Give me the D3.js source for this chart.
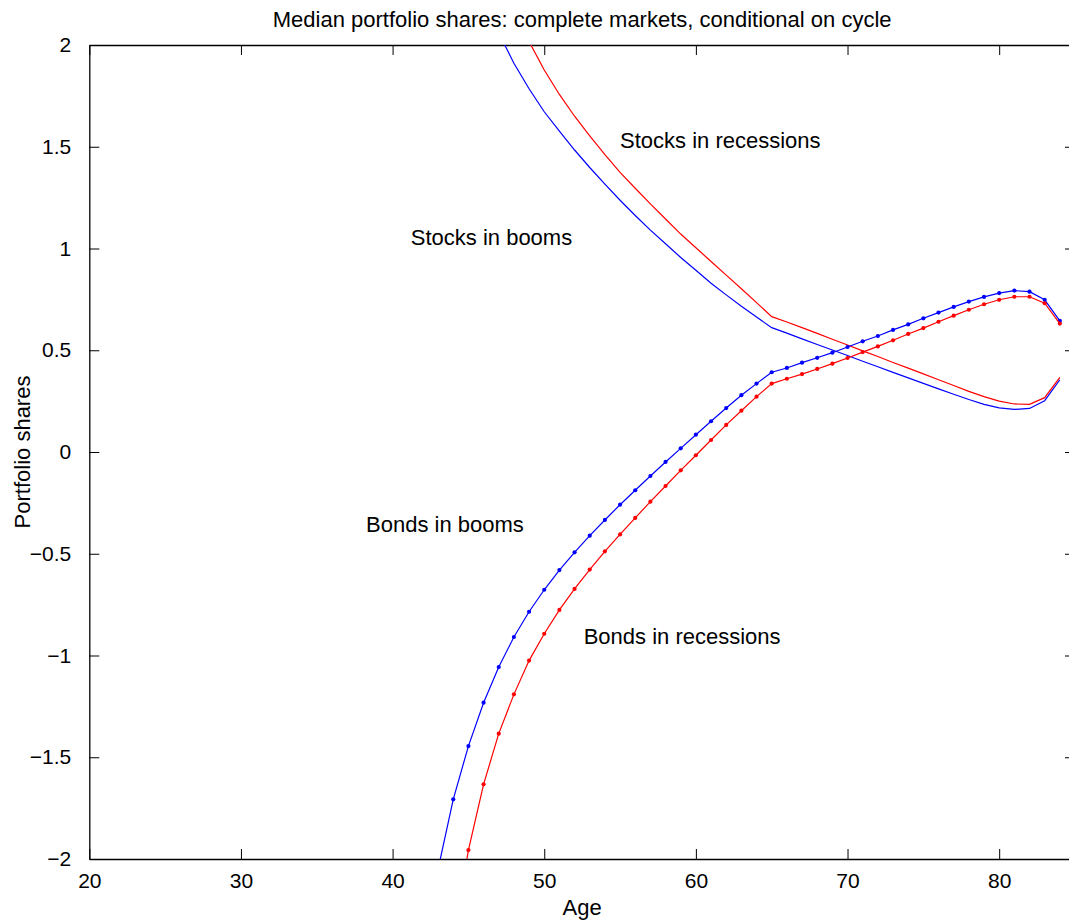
<!DOCTYPE html>
<html>
<head>
<meta charset="utf-8">
<script src="https://cdn.jsdelivr.net/npm/d3@7"></script>
<style>
  body { margin: 0; background: #fff; }
  svg { display: block; font-family: "Liberation Sans", Arial, sans-serif; }
</style>
</head>
<body>
<svg id="chart" width="1069" height="923"></svg>
<script>
// ages for each series
const bondsBoomAge = d3.range(43, 85);
const bondsRecAge = d3.range(44, 85);
const stocksBoomAge = d3.range(47, 85);
const stocksRecAge = d3.range(48, 85);

// median portfolio shares
const bondsBoom = [
  -2.05, -1.707, -1.445, -1.232, -1.057, -0.909, -0.785, -0.677, -0.580, -0.493,
  -0.411, -0.334, -0.259, -0.188, -0.118, -0.049, 0.018, 0.085, 0.151, 0.216,
  0.279, 0.336, 0.392, 0.413, 0.439, 0.463, 0.488, 0.516, 0.544, 0.570,
  0.600, 0.627, 0.657, 0.685, 0.713, 0.739, 0.762, 0.781, 0.793, 0.788,
  0.748, 0.644
];
const bondsRec = [
  -2.40, -1.956, -1.633, -1.384, -1.191, -1.025, -0.893, -0.776, -0.673, -0.578,
  -0.488, -0.405, -0.324, -0.244, -0.167, -0.090, -0.016, 0.059, 0.133, 0.203,
  0.272, 0.336, 0.360, 0.383, 0.408, 0.434, 0.462, 0.491, 0.519, 0.549,
  0.580, 0.609, 0.640, 0.670, 0.699, 0.726, 0.748, 0.763, 0.763, 0.731,
  0.631
];
const stocksBoom = [
  2.06, 1.91, 1.785, 1.672, 1.577, 1.484, 1.398, 1.316, 1.237, 1.162,
  1.090, 1.023, 0.956, 0.893, 0.829, 0.772, 0.716, 0.663, 0.611, 0.584,
  0.556, 0.528, 0.501, 0.474, 0.446, 0.419, 0.391, 0.364, 0.337, 0.310,
  0.284, 0.258, 0.234, 0.217, 0.209, 0.214, 0.252, 0.355
];
const stocksRec = [
  2.17, 2.017, 1.877, 1.757, 1.650, 1.554, 1.461, 1.374, 1.296, 1.219,
  1.145, 1.071, 1.004, 0.936, 0.869, 0.802, 0.734, 0.665, 0.639, 0.611,
  0.583, 0.554, 0.526, 0.497, 0.469, 0.440, 0.412, 0.384, 0.355, 0.327,
  0.298, 0.272, 0.250, 0.236, 0.234, 0.267, 0.367
];

const xTicks = [20, 30, 40, 50, 60, 70, 80];
const yTicks = [-2, -1.5, -1, -0.5, 0, 0.5, 1, 1.5, 2];

const svg = d3.select("#chart");

const plotLeft = 89.3, plotRight = 1075, plotTop = 45, plotBottom = 859;
const fontSize = 22;

const xScale = d3.scaleLinear().domain([20, 85]).range([plotLeft, plotRight]);
const yScale = d3.scaleLinear().domain([-2, 2]).range([plotBottom, plotTop]);

svg.append("clipPath")
  .attr("id", "plot-clip")
  .append("rect")
  .attr("x", plotLeft)
  .attr("y", plotTop)
  .attr("width", plotRight - plotLeft)
  .attr("height", plotBottom - plotTop);

const fmt = d3.format("~g");

// axes, ticks pointing inwards like matlab
svg.append("g")
  .attr("transform", `translate(0, ${plotBottom})`)
  .call(d3.axisBottom(xScale).tickValues(xTicks).tickSizeInner(-10).tickSizeOuter(0).tickPadding(14).tickFormat(fmt));
svg.append("g")
  .attr("transform", `translate(0, ${plotTop})`)
  .call(d3.axisTop(xScale).tickValues(xTicks).tickSizeInner(-10).tickSizeOuter(0).tickFormat(""));
svg.append("g")
  .attr("transform", `translate(${plotLeft}, 0)`)
  .call(d3.axisLeft(yScale).tickValues(yTicks).tickSizeInner(-10).tickSizeOuter(0).tickPadding(18).tickFormat(fmt));
svg.append("g")
  .attr("transform", `translate(${plotRight}, 0)`)
  .call(d3.axisRight(yScale).tickValues(yTicks).tickSizeInner(-10).tickSizeOuter(0).tickFormat(""));

svg.selectAll(".domain").attr("stroke", "#000").attr("stroke-width", 1.3);
svg.selectAll(".tick line").attr("stroke", "#000").attr("stroke-width", 1);
svg.selectAll(".tick text")
  .attr("font-size", fontSize - 1)
  .attr("font-family", "Liberation Sans, Arial, sans-serif")
  .attr("fill", "#000");

const plot = svg.append("g").attr("clip-path", "url(#plot-clip)");

const line = d3.line()
  .x((d) => xScale(d[0]))
  .y((d) => yScale(d[1]));

const series = [
  { ages: stocksBoomAge, values: stocksBoom, color: "#0000ff", dots: false },
  { ages: stocksRecAge, values: stocksRec, color: "#ff0000", dots: false },
  { ages: bondsBoomAge, values: bondsBoom, color: "#0000ff", dots: true },
  { ages: bondsRecAge, values: bondsRec, color: "#ff0000", dots: true },
];

series.forEach((s) => {
  const pts = s.ages.map((a, i) => [a, s.values[i]]);
  plot.append("path")
    .datum(pts)
    .attr("fill", "none")
    .attr("stroke", s.color)
    .attr("stroke-width", 1.2)
    .attr("d", line);
  if (s.dots) {
    plot.selectAll(null)
      .data(pts)
      .enter()
      .append("circle")
      .attr("cx", (d) => xScale(d[0]))
      .attr("cy", (d) => yScale(d[1]))
      .attr("r", 2.1)
      .attr("fill", s.color);
  }
});

// in-plot annotations (data coordinates, left aligned, vertically centred)
const notes = [
  { text: "Stocks in recessions", x: 55.0, y: 1.53 },
  { text: "Stocks in booms", x: 41.2, y: 1.055 },
  { text: "Bonds in booms", x: 38.25, y: -0.354 },
  { text: "Bonds in recessions", x: 52.6, y: -0.904 },
];
svg.selectAll(".note")
  .data(notes)
  .enter()
  .append("text")
  .attr("class", "note")
  .attr("x", (d) => xScale(d.x))
  .attr("y", (d) => yScale(d.y))
  .attr("dy", "0.35em")
  .attr("font-size", fontSize)
  .text((d) => d.text);

svg.append("text")
  .attr("x", (plotLeft + plotRight) / 2)
  .attr("y", 27)
  .attr("text-anchor", "middle")
  .attr("font-size", fontSize)
  .text("Median portfolio shares: complete markets, conditional on cycle");

svg.append("text")
  .attr("x", (plotLeft + plotRight) / 2)
  .attr("y", 915)
  .attr("text-anchor", "middle")
  .attr("font-size", fontSize)
  .text("Age");

svg.append("text")
  .attr("transform", `translate(30, ${(plotTop + plotBottom) / 2}) rotate(-90)`)
  .attr("text-anchor", "middle")
  .attr("font-size", fontSize)
  .text("Portfolio shares");
</script>
</body>
</html>
